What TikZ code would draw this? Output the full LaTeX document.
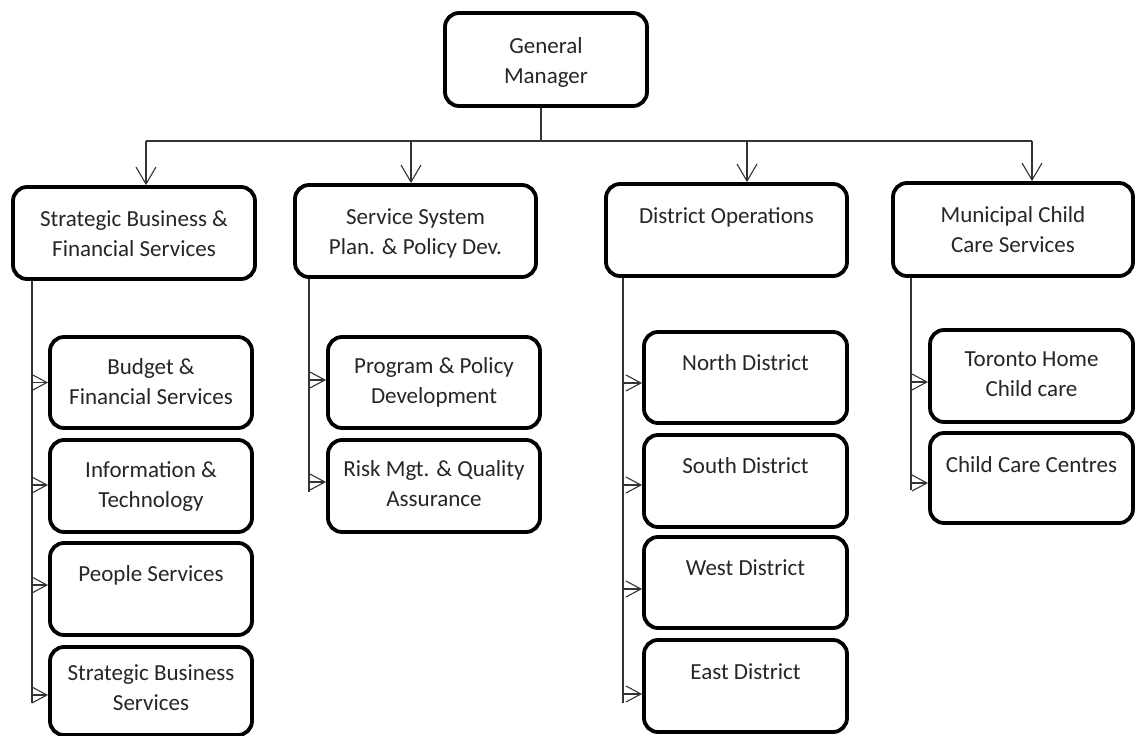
\documentclass[tikz,border=0pt]{standalone}
\usepackage{fontspec}
\setmainfont{Carlito}
\usetikzlibrary{arrows.meta}
\begin{document}
\begin{tikzpicture}[x=1pt,y=-1pt,
  box/.style={draw=black, line width=3.8pt, rounded corners=14pt, fill=white, inner sep=0pt},
  txt/.style={anchor=north, inner sep=0pt, align=center, text=black!85, font=\fontsize{23}{30}\selectfont},
  conn/.style={draw=black!80, line width=1.1pt},
  downarrow/.style={conn, -{Straight Barb[length=17pt,width=20pt,line width=1.1pt]}},
  sidearrow/.style={conn, -{Straight Barb[length=15pt,width=16pt,line width=1.1pt]}}
]
\useasboundingbox (0,0) rectangle (1135,736);
% top
\node[box, minimum width=202, minimum height=93] (gm) at (546,59.5) {};
\node[txt] (tgm) at ([yshift=-21pt]gm.north) {\strut General\\Manager};
% level 1
\node[box, minimum width=242, minimum height=92] (b1) at (134,233) {};
\node[box, minimum width=241, minimum height=92] (b2) at (415.5,231) {};
\node[box, minimum width=241, minimum height=92] (b3) at (726.5,230) {};
\node[box, minimum width=240, minimum height=93] (b4) at (1013,229.5) {};
\node[txt] (tb1) at ([yshift=-20pt]b1.north) {\strut Strategic Business \&\\Financial Services};
\node[txt] (tb2) at ([yshift=-20pt]b2.north) {\strut Service System\\Plan. \& Policy Dev.};
\node[txt] (tb3) at ([yshift=-20pt]b3.north) {\strut District Operations};
\node[txt] (tb4) at ([yshift=-20pt]b4.north) {\strut Municipal Child\\Care Services};
% level 2, column 1
\node[box, minimum width=202, minimum height=91] (c11) at (151,382.5) {};
\node[box, minimum width=202, minimum height=92] (c12) at (151,486) {};
\node[box, minimum width=202, minimum height=92] (c13) at (151,589) {};
\node[box, minimum width=202, minimum height=88] (c14) at (151,691) {};
\node[txt] (tc11) at ([yshift=-18pt]c11.north) {\strut Budget \&\\Financial Services};
\node[txt] (tc12) at ([yshift=-18pt]c12.north) {\strut Information \&\\Technology};
\node[txt] (tc13) at ([yshift=-19pt]c13.north) {\strut People Services};
\node[txt] (tc14) at ([yshift=-14pt]c14.north) {\strut Strategic Business\\Services};
% column 2
\node[box, minimum width=212, minimum height=91] (c21) at (434,382.5) {};
\node[box, minimum width=212, minimum height=92] (c22) at (434,486) {};
\node[txt] (tc21) at ([yshift=-17pt]c21.north) {\strut Program \& Policy\\Development};
\node[txt] (tc22) at ([yshift=-17pt]c22.north) {\strut Risk Mgt. \& Quality\\Assurance};
% column 3
\node[box, minimum width=203, minimum height=91] (c31) at (745.5,377.5) {};
\node[box, minimum width=203, minimum height=92] (c32) at (745.5,481) {};
\node[box, minimum width=203, minimum height=91] (c33) at (745.5,582.5) {};
\node[box, minimum width=203, minimum height=92] (c34) at (745.5,686) {};
\node[txt] (tc31) at ([yshift=-19pt]c31.north) {\strut North District};
\node[txt] (tc32) at ([yshift=-19pt]c32.north) {\strut South District};
\node[txt] (tc33) at ([yshift=-19pt]c33.north) {\strut West District};
\node[txt] (tc34) at ([yshift=-20pt]c34.north) {\strut East District};
% column 4
\node[box, minimum width=203, minimum height=92] (c41) at (1031.5,376) {};
\node[box, minimum width=203, minimum height=90] (c42) at (1031.5,478) {};
\node[txt] (tc41) at ([yshift=-17pt]c41.north) {\strut Toronto Home\\Child care};
\node[txt] (tc42) at ([yshift=-20pt]c42.north) {\strut Child Care Centres};
% top connectors
\coordinate (hj) at (541,141);
\coordinate (h1) at (146,141);
\coordinate (h2) at (411,141);
\coordinate (h3) at (747,141);
\coordinate (h4) at (1032,141);
\draw[conn] (gm.south -| hj) -- (hj);
\draw[conn] (h1) -- (h4);
\draw[downarrow] (h1) -- (h1 |- b1.north);
\draw[downarrow] (h2) -- (h2 |- b2.north);
\draw[downarrow] (h3) -- (h3 |- b3.north);
\draw[downarrow] (h4) -- (h4 |- b4.north);
% vertical spines
\coordinate (v1) at (32,703);
\coordinate (v2) at (309,492);
\coordinate (v3) at (623,703);
\coordinate (v4) at (911,490);
\draw[conn] (b1.south -| v1) -- (v1);
\draw[conn] (b2.south -| v2) -- (v2);
\draw[conn] (b3.south -| v3) -- (v3);
\draw[conn] (b4.south -| v4) -- (v4);
% side arrows
\draw[sidearrow] (v1 |- c11.west) -- (c11.west);
\draw[sidearrow] ([yshift=1pt]v1 |- c12.west) -- ([yshift=1pt]c12.west);
\draw[sidearrow] ([yshift=4pt]v1 |- c13.west) -- ([yshift=4pt]c13.west);
\draw[sidearrow] ([yshift=-4pt]v1 |- c14.west) -- ([yshift=-4pt]c14.west);
\draw[sidearrow] ([yshift=2.5pt]v2 |- c21.west) -- ([yshift=2.5pt]c21.west);
\draw[sidearrow] ([yshift=4pt]v2 |- c22.west) -- ([yshift=4pt]c22.west);
\draw[sidearrow] ([yshift=-5.5pt]v3 |- c31.west) -- ([yshift=-5.5pt]c31.west);
\draw[sidearrow] ([yshift=-4pt]v3 |- c32.west) -- ([yshift=-4pt]c32.west);
\draw[sidearrow] ([yshift=-6.5pt]v3 |- c33.west) -- ([yshift=-6.5pt]c33.west);
\draw[sidearrow] ([yshift=-8pt]v3 |- c34.west) -- ([yshift=-8pt]c34.west);
\draw[sidearrow] ([yshift=-6pt]v4 |- c41.west) -- ([yshift=-6pt]c41.west);
\draw[sidearrow] ([yshift=-5pt]v4 |- c42.west) -- ([yshift=-5pt]c42.west);
\end{tikzpicture}
\end{document}
